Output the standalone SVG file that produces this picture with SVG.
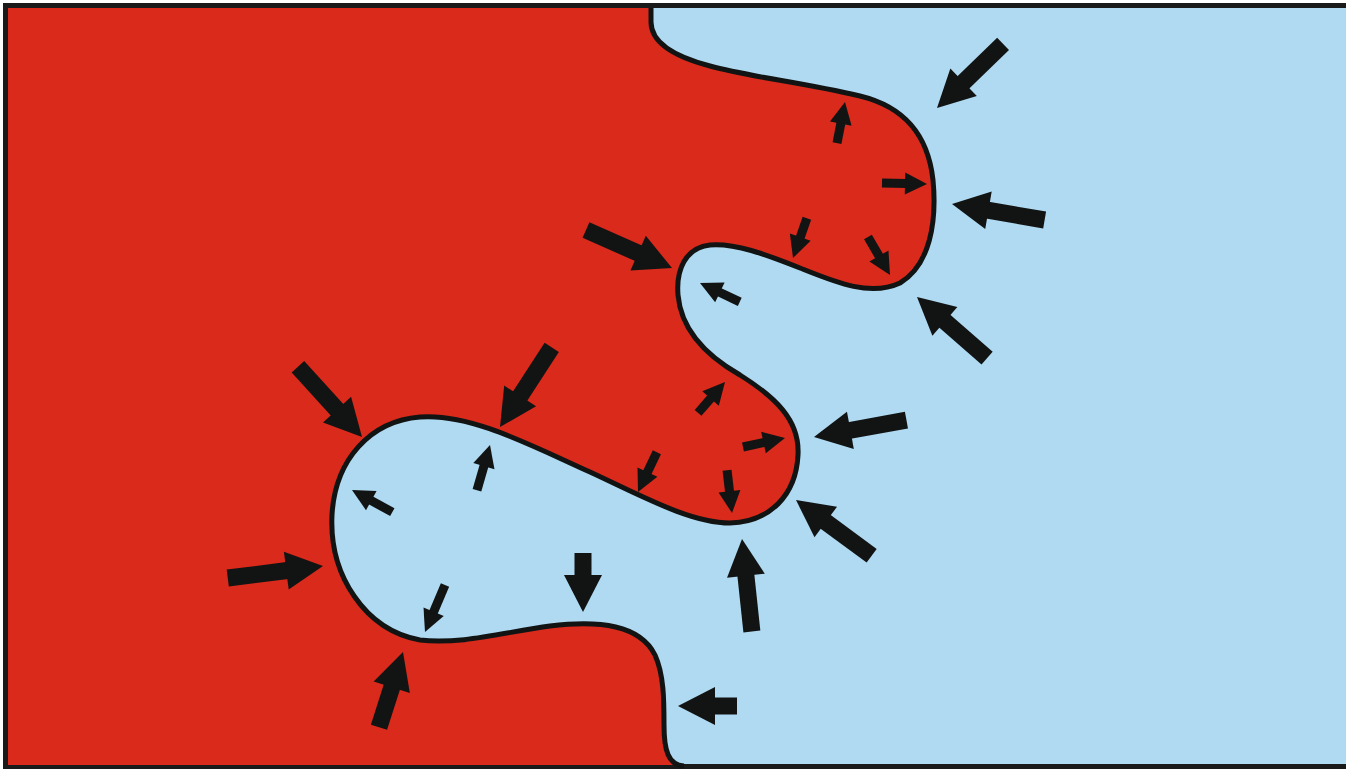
<svg xmlns="http://www.w3.org/2000/svg" xmlns:xlink="http://www.w3.org/1999/xlink" width="1346" height="772" viewBox="0 0 1346 772">
<style>
.arrow { fill: #121414; }
.frame { fill: #afdaf2; stroke: #1a1a1a; stroke-width: 5; }
.red { fill: #da2a1b; }
.edge { fill: none; stroke: #121414; stroke-width: 5; stroke-linejoin: round; }
</style>
<defs>
<path id="hL" d="M0,0 L-37,-19 L-37,19 Z"/>
<path id="hS" d="M0,0 L-22,-11 L-22,11 Z"/>
</defs>
<rect width="1346" height="772" fill="#ffffff"/>
<rect class="frame" x="5.5" y="5.5" width="1350" height="761"/>
<g id="red-region">
<path class="red" d="M8,8 L651,8 L651,22 C651,42 672,56 710,66 C750,77 800,82 860,96 C905,107 928,135 933,180 C937,222 930,265 900,283 C870,297 835,282 800,268 C765,254 735,243 710,245 C685,248 676,270 678,295 C681,330 705,355 740,375 C775,397 800,420 798,455 C796,495 770,522 730,523 C690,523 640,495 590,472 C530,445 470,413 420,417 C370,421 335,460 332,515 C329,575 365,630 420,640 C460,645 505,632 550,626 C600,620 640,625 655,655 C664,675 664,700 664,725 C664,750 668,765 682,765 L8,765 Z"/>
<path class="edge" d="M651,8 L651,22 C651,42 672,56 710,66 C750,77 800,82 860,96 C905,107 928,135 933,180 C937,222 930,265 900,283 C870,297 835,282 800,268 C765,254 735,243 710,245 C685,248 676,270 678,295 C681,330 705,355 740,375 C775,397 800,420 798,455 C796,495 770,522 730,523 C690,523 640,495 590,472 C530,445 470,413 420,417 C370,421 335,460 332,515 C329,575 365,630 420,640 C460,645 505,632 550,626 C600,620 640,625 655,655 C664,675 664,700 664,725 C664,750 668,765 684,766"/>
</g>
<g id="arrows-large" class="arrow">
<g transform="translate(937,108) rotate(135.9)"><use xlink:href="#hL"/><rect x="-92" y="-8.5" width="56" height="17"/></g>
<g transform="translate(952,204) rotate(-170.2)"><use xlink:href="#hL"/><rect x="-94" y="-8.5" width="58" height="17"/></g>
<g transform="translate(917,297) rotate(-138.9)"><use xlink:href="#hL"/><rect x="-93" y="-8.5" width="57" height="17"/></g>
<g transform="translate(672,268) rotate(23.8)"><use xlink:href="#hL"/><rect x="-94" y="-8.5" width="58" height="17"/></g>
<g transform="translate(814,437) rotate(169.6)"><use xlink:href="#hL"/><rect x="-94" y="-8.5" width="58" height="17"/></g>
<g transform="translate(796,500) rotate(-143.6)"><use xlink:href="#hL"/><rect x="-94" y="-8.5" width="58" height="17"/></g>
<g transform="translate(742,539) rotate(-96.1)"><use xlink:href="#hL"/><rect x="-93" y="-8.5" width="57" height="17"/></g>
<g transform="translate(678,706) rotate(180)"><use xlink:href="#hL"/><rect x="-59" y="-8.5" width="23" height="17"/></g>
<g transform="translate(362,437) rotate(47.6)"><use xlink:href="#hL"/><rect x="-95" y="-8.5" width="59" height="17"/></g>
<g transform="translate(500,427) rotate(123)"><use xlink:href="#hL"/><rect x="-95" y="-8.5" width="59" height="17"/></g>
<g transform="translate(323,566) rotate(-7.2)"><use xlink:href="#hL"/><rect x="-96" y="-8.5" width="60" height="17"/></g>
<g transform="translate(403,652) rotate(-72.3)"><use xlink:href="#hL"/><rect x="-79" y="-8.5" width="43" height="17"/></g>
<g transform="translate(583,612) rotate(90)"><use xlink:href="#hL"/><rect x="-59" y="-8.5" width="23" height="17"/></g>
</g>
<g id="arrows-small" class="arrow">
<g transform="translate(845,102) rotate(-79)"><use xlink:href="#hS"/><rect x="-42" y="-4.5" width="21" height="9"/></g>
<g transform="translate(927,184) rotate(1.3)"><use xlink:href="#hS"/><rect x="-45" y="-4.5" width="24" height="9"/></g>
<g transform="translate(793,258) rotate(109.3)"><use xlink:href="#hS"/><rect x="-42" y="-4.5" width="21" height="9"/></g>
<g transform="translate(890,275) rotate(59.9)"><use xlink:href="#hS"/><rect x="-44" y="-4.5" width="23" height="9"/></g>
<g transform="translate(700,283) rotate(-154.6)"><use xlink:href="#hS"/><rect x="-44" y="-4.5" width="23" height="9"/></g>
<g transform="translate(725,382) rotate(-48.9)"><use xlink:href="#hS"/><rect x="-41" y="-4.5" width="20" height="9"/></g>
<g transform="translate(785,438) rotate(-12.1)"><use xlink:href="#hS"/><rect x="-43" y="-4.5" width="22" height="9"/></g>
<g transform="translate(638,492) rotate(115.4)"><use xlink:href="#hS"/><rect x="-44" y="-4.5" width="23" height="9"/></g>
<g transform="translate(732,513) rotate(83.4)"><use xlink:href="#hS"/><rect x="-43" y="-4.5" width="22" height="9"/></g>
<g transform="translate(490,445) rotate(-73.9)"><use xlink:href="#hS"/><rect x="-47" y="-4.5" width="26" height="9"/></g>
<g transform="translate(352,490) rotate(-151.2)"><use xlink:href="#hS"/><rect x="-46" y="-4.5" width="25" height="9"/></g>
<g transform="translate(425,632) rotate(113.1)"><use xlink:href="#hS"/><rect x="-51" y="-4.5" width="30" height="9"/></g>
</g>
</svg>
